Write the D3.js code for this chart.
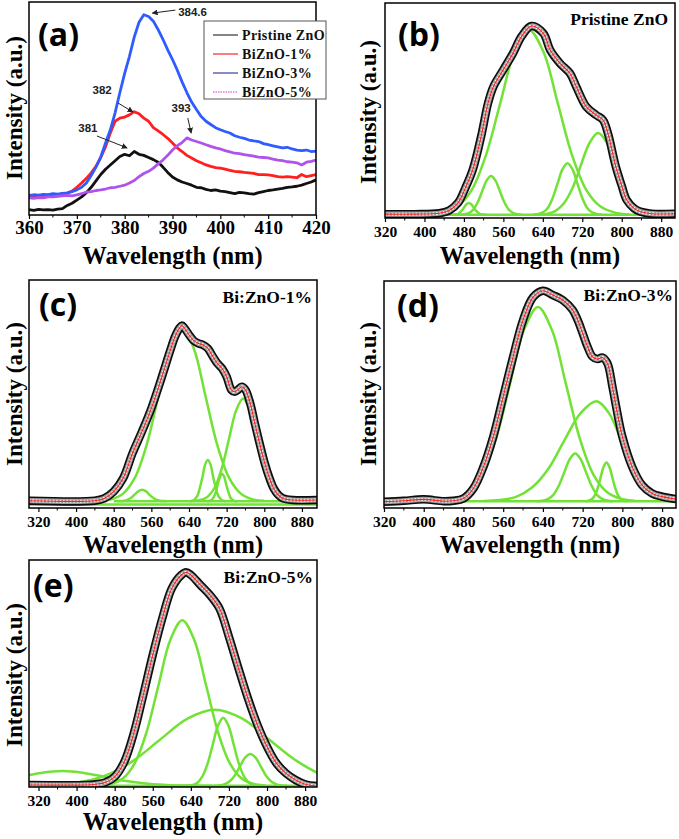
<!DOCTYPE html>
<html><head><meta charset="utf-8">
<script src="https://cdn.jsdelivr.net/npm/d3@7/dist/d3.min.js"></script>
<style>html,body{margin:0;padding:0;background:#fff}</style>
</head><body>
<svg id="chart" width="679" height="839"></svg>
<script>
// ===== Panel (a): PL spectra 360-420 nm =====
const wavelengthA = d3.range(360, 421, 1);
const pristineA = [.025,.022,.026,.024,.025,.023,.028,.03,.045,.055,.07,.085,.105,.13,.16,.19,.215,.235,.255,.275,.285,.278,.298,.285,.28,.27,.26,.248,.225,.2,.178,.165,.155,.148,.14,.13,.128,.12,.115,.118,.112,.11,.105,.1,.106,.104,.1,.098,.105,.11,.115,.118,.122,.125,.13,.132,.135,.14,.148,.155,.165];
const bi1A = [.085,.088,.086,.09,.092,.094,.095,.1,.103,.112,.13,.15,.172,.198,.228,.27,.32,.385,.44,.455,.46,.47,.485,.475,.455,.44,.41,.395,.378,.36,.338,.315,.298,.28,.268,.255,.245,.235,.228,.222,.22,.215,.21,.205,.203,.2,.198,.195,.19,.19,.188,.185,.18,.178,.18,.178,.175,.19,.18,.185,.19];
const bi3A = [.092,.095,.093,.097,.096,.1,.098,.102,.104,.11,.118,.13,.15,.185,.225,.272,.338,.4,.48,.575,.665,.745,.835,.905,.94,.932,.91,.87,.825,.775,.73,.68,.625,.575,.53,.495,.462,.44,.425,.41,.4,.392,.385,.372,.365,.36,.352,.348,.345,.335,.33,.325,.32,.315,.318,.31,.305,.302,.305,.298,.3];
const bi5A = [.08,.078,.082,.081,.085,.085,.088,.09,.092,.09,.095,.1,.108,.11,.115,.118,.122,.128,.13,.135,.14,.15,.162,.18,.195,.205,.22,.24,.258,.28,.305,.325,.34,.362,.352,.345,.338,.33,.322,.315,.31,.302,.296,.29,.288,.283,.28,.276,.272,.27,.268,.262,.258,.255,.25,.248,.245,.235,.248,.252,.258];
const legendLabels = ['Pristine ZnO', 'BiZnO-1%', 'BiZnO-3%', 'BiZnO-5%'];
const seriesColors = ['#111111', '#ff1f1f', '#2f5cff', '#b052ec'];
const legendColors = ['#333333', '#ff2020', '#3b3b9c', '#d63ac8'];
// peak annotations: [label, textX, textY, arrowFromX, arrowFromY, arrowToX, arrowToY] (data units)
const peakNotes = [
  ['384.6', 394.2, .955, 390.6, .962, 385.8, .948],
  ['382', 375.3, .587, 378.6, .526, 381.7, .484],
  ['381', 372.3, .408, 374.2, .371, 380.5, .315],
  ['393', 391.8, .502, 393.2, .455, 393.9, .385]
];

// ===== Panels (b)-(e): measured spectra [nm, intensity] =====
const specB = [[320,.018],[380,.018],[430,.022],[450,.035],[468,.07],[483,.14],[498,.225],[515,.38],[529,.535],[540,.612],[560,.69],[580,.768],[597,.845],[617,.893],[641,.859],[655,.781],[675,.719],[695,.673],[708,.61],[728,.518],[748,.479],[762,.456],[772,.394],[788,.239],[800,.15],[810,.084],[825,.045],[837,.03],[860,.02],[908,.02]];
const specC = [[300,.032],[440,.032],[460,.042],[480,.072],[500,.13],[520,.24],[540,.335],[560,.437],[580,.56],[600,.69],[610,.75],[620,.79],[625,.80],[630,.79],[640,.76],[650,.734],[660,.722],[670,.715],[680,.70],[690,.667],[700,.635],[710,.613],[720,.576],[730,.518],[737,.51],[745,.52],[752,.532],[760,.518],[770,.46],[780,.37],[790,.284],[800,.203],[810,.137],[820,.086],[830,.057],[840,.042],[860,.035],[912,.035]];
const specD = [[320,.028],[360,.032],[400,.038],[440,.03],[460,.032],[480,.042],[500,.086],[520,.18],[540,.314],[560,.49],[580,.666],[600,.828],[620,.928],[640,.957],[660,.938],[680,.916],[700,.872],[710,.828],[720,.77],[730,.71],[740,.666],[750,.656],[760,.663],[770,.637],[780,.534],[790,.417],[800,.314],[820,.18],[840,.10],[860,.064],[880,.05],[900,.042],[908,.04]];
const specE = [[300,.009],[420,.009],[440,.012],[460,.02],[480,.045],[500,.11],[520,.236],[540,.405],[560,.582],[580,.743],[600,.875],[620,.934],[630,.946],[640,.934],[660,.89],[680,.846],[700,.787],[720,.662],[740,.523],[760,.39],[780,.273],[800,.178],[820,.104],[840,.06],[860,.031],[880,.012],[905,.004]];

// ===== Fitted components (green) [nm, intensity] =====
const compsB = [
  [[455,.015],[460,.016],[465,.017],[470,.022],[475,.033],[480,.048],[485,.064],[490,.070],[495,.064],[500,.048],[505,.033],[510,.022],[515,.017],[520,.016],[525,.015]],
  [[472,.015],[481,.017],[490,.023],[499,.039],[508,.073],[517,.124],[526,.174],[535,.195],[544,.174],[553,.124],[562,.073],[571,.039],[580,.023],[589,.017],[598,.015]],
  [[409,.017],[438,.025],[467,.053],[496,.131],[525,.294],[554,.537],[583,.774],[612,.875],[641,.774],[670,.537],[699,.294],[728,.131],[757,.053],[786,.025],[815,.017]],
  [[620,.016],[630,.018],[640,.026],[650,.047],[660,.093],[670,.161],[680,.227],[690,.255],[700,.227],[710,.161],[720,.093],[730,.047],[740,.026],[750,.018],[760,.016]],
  [[630,.016],[647,.019],[665,.032],[682,.066],[700,.138],[717,.245],[735,.350],[752,.395],[770,.350],[787,.245],[805,.138],[822,.066],[840,.032],[857,.019],[875,.016]],
  [[440,.015],[880,.015]]
];
const compsC = [
  [[488,.030],[495,.031],[503,.032],[510,.037],[518,.046],[525,.060],[533,.074],[540,.080],[548,.074],[555,.060],[563,.046],[570,.037],[578,.032],[585,.031],[593,.030]],
  [[450,.032],[475,.038],[500,.063],[525,.133],[550,.277],[575,.491],[600,.701],[625,.790],[650,.701],[675,.491],[700,.277],[725,.133],[750,.063],[775,.038],[800,.032]],
  [[641,.030],[647,.032],[652,.038],[658,.054],[663,.088],[669,.139],[674,.189],[680,.210],[686,.189],[691,.139],[697,.088],[702,.054],[708,.038],[713,.032],[719,.030]],
  [[679,.030],[683,.031],[688,.035],[692,.046],[697,.069],[701,.103],[706,.136],[710,.150],[715,.136],[719,.103],[724,.069],[728,.046],[733,.035],[737,.031],[742,.030]],
  [[650,.031],[665,.035],[680,.050],[695,.091],[710,.176],[725,.303],[740,.427],[755,.480],[770,.427],[785,.303],[800,.176],[815,.091],[830,.050],[845,.035],[860,.031]],
  [[300,.015],[912,.015]],
  [[480,.03],[880,.03]]
];
const compsD = [
  [[434,.032],[462,.040],[490,.068],[518,.146],[546,.308],[574,.549],[602,.785],[630,.886],[658,.785],[686,.549],[714,.308],[742,.146],[770,.068],[798,.040],[826,.032]],
  [[628,.030],[639,.032],[650,.039],[661,.058],[672,.098],[683,.157],[694,.215],[705,.240],[716,.215],[727,.157],[738,.098],[749,.058],[760,.039],[771,.032],[782,.030]],
  [[521,.031],[553,.035],[586,.049],[618,.090],[651,.173],[683,.297],[716,.418],[748,.470],[773,.418],[798,.297],[823,.173],[848,.090],[873,.049],[898,.035],[923,.031]],
  [[726,.030],[732,.032],[738,.038],[744,.053],[750,.085],[756,.133],[762,.180],[768,.200],[774,.180],[780,.133],[786,.085],[792,.053],[798,.038],[804,.032],[810,.030]],
  [[480,.03],[908,.03]]
];
const compsE = [
  [[55,.005],[100,.006],[145,.008],[190,.014],[235,.026],[280,.044],[325,.062],[370,.070],[415,.062],[460,.044],[505,.026],[550,.014],[595,.008],[640,.006],[685,.005]],
  [[447,.007],[472,.013],[497,.037],[522,.104],[547,.242],[572,.448],[597,.649],[622,.735],[647,.649],[672,.448],[697,.242],[722,.104],[747,.037],[772,.013],[797,.007]],
  [[288,.006],[345,.009],[403,.020],[460,.050],[518,.114],[575,.208],[633,.301],[690,.340],[748,.301],[805,.208],[863,.114],[920,.050],[978,.020],[1035,.009],[1093,.006]],
  [[631,.006],[642,.008],[653,.018],[664,.046],[675,.102],[686,.187],[697,.270],[708,.305],[719,.270],[730,.187],[741,.102],[752,.046],[763,.018],[774,.008],[785,.006]],
  [[688,.005],[699,.007],[710,.011],[721,.024],[732,.050],[743,.090],[754,.129],[765,.145],[776,.129],[787,.090],[798,.050],[809,.024],[820,.011],[831,.007],[842,.005]],
  [[440,.005],[880,.005]]
];
const sampleTags = ['Pristine ZnO', 'Bi:ZnO-1%', 'Bi:ZnO-3%', 'Bi:ZnO-5%'];
const majorTicksA = [360, 370, 380, 390, 400, 410, 420];
const majorTicksFit = [320, 400, 480, 560, 640, 720, 800, 880];

// ===== Layout =====
const SERIF = "'Liberation Serif','Times New Roman',serif";
const SANS = "'Liberation Sans',Arial,sans-serif";
const LETTER = "'Open Sans','Lato',sans-serif";
const svg = d3.select('#chart');
svg.append('rect').attr('width', 679).attr('height', 839).attr('fill', '#fff');
const defs = svg.append('defs');
defs.append('marker').attr('id', 'arrow').attr('viewBox', '0 0 8 8').attr('refX', 7).attr('refY', 4)
  .attr('markerWidth', 6).attr('markerHeight', 6).attr('markerUnits', 'userSpaceOnUse').attr('orient', 'auto')
  .append('path').attr('d', 'M0,0 L8,4 L0,8 Z').attr('fill', '#222');

const panels = [
  {key:'a', box:[29,2,316,215], xdom:[360,420], major:majorTicksA, minorStep:5, tickFs:19, tickPad:2, letter:'(a)', letterPos:[38,35], ylab:[14,108], titleY:256},
  {key:'b', box:[385,3,675,218], xdom:[320,908], major:majorTicksFit, minorStep:40, tickFs:15.5, tickPad:4, letter:'(b)', letterPos:[398,35], ylab:[368,112], titleY:256, tag:sampleTags[0], tagPos:[668,19], spec:specB, comps:compsB},
  {key:'c', box:[29,280,317,508], xdom:[300,912], major:majorTicksFit, minorStep:40, tickFs:15.5, tickPad:4, letter:'(c)', letterPos:[39,305], ylab:[14,394], titleY:545, tag:sampleTags[1], tagPos:[312,297], spec:specC, comps:compsC},
  {key:'d', box:[384,281,676,508], xdom:[320,908], major:majorTicksFit, minorStep:40, tickFs:15.5, tickPad:4, letter:'(d)', letterPos:[397,306], ylab:[368,394], titleY:545, tag:sampleTags[2], tagPos:[673,295], spec:specD, comps:compsD},
  {key:'e', box:[29,560,317,787], xdom:[300,905], major:majorTicksFit, minorStep:40, tickFs:15.5, tickPad:4, letter:'(e)', letterPos:[33,586], ylab:[14,675], titleY:822, tag:sampleTags[3], tagPos:[313,577], spec:specE, comps:compsE}
];

panels.forEach(p => {
  const [L, T, R, B] = p.box;
  const x = d3.scaleLinear().domain(p.xdom).range([L, R]);
  const y = d3.scaleLinear().domain([0, 1]).range([B, T]);
  const g = svg.append('g');
  const clipId = 'clip-' + p.key;
  defs.append('clipPath').attr('id', clipId).append('rect')
    .attr('x', L).attr('y', T).attr('width', R - L).attr('height', B - T);
  const plot = g.append('g').attr('clip-path', `url(#${clipId})`);

  if (p.key === 'a') {
    const line = d3.line().x((d, i) => x(wavelengthA[i])).y(d => y(d)).curve(d3.curveLinear);
    [pristineA, bi1A, bi3A, bi5A].forEach((s, i) => {
      plot.append('path').attr('d', line(s)).attr('fill', 'none')
        .attr('stroke', seriesColors[i]).attr('stroke-width', 2.8).attr('stroke-linejoin', 'round');
    });
  } else {
    const line = d3.line().x(d => x(d[0])).y(d => y(d[1])).curve(d3.curveCatmullRom.alpha(0.5));
    p.comps.forEach(c => {
      plot.append('path').attr('d', line(c)).attr('fill', 'none')
        .attr('stroke', '#72e236').attr('stroke-width', 2.5).attr('stroke-linejoin', 'round');
    });
    const dpath = line(p.spec);
    plot.append('path').attr('d', dpath).attr('fill', 'none').attr('stroke', '#0d0d0d').attr('stroke-width', 8.5).attr('stroke-linejoin', 'round');
    plot.append('path').attr('d', dpath).attr('fill', 'none').attr('stroke', '#a0a0a0').attr('stroke-width', 5.2).attr('stroke-linejoin', 'round');
    plot.append('path').attr('d', dpath).attr('fill', 'none').attr('stroke', '#f4f4f4').attr('stroke-width', 3).attr('stroke-dasharray', '1.6 1.8');
    plot.append('path').attr('d', dpath).attr('fill', 'none').attr('stroke', '#ff2020').attr('stroke-width', 1.1);
  }

  // axis
  const ax = g.append('g').attr('transform', `translate(0,${B})`)
    .call(d3.axisBottom(x).tickValues(p.major).tickSize(4).tickPadding(p.tickPad).tickFormat(d3.format('d')));
  ax.select('.domain').remove();
  ax.selectAll('line').attr('stroke', '#000').attr('stroke-width', 1.2);
  ax.selectAll('text').attr('font-family', SERIF).attr('font-weight', 'bold').attr('font-size', p.tickFs).attr('fill', '#000');
  const minor = d3.range(p.major[0] + p.minorStep, p.xdom[1], p.minorStep * 2);
  g.selectAll(null).data(minor).enter().append('line')
    .attr('x1', d => x(d)).attr('x2', d => x(d)).attr('y1', B).attr('y2', B + 2.5)
    .attr('stroke', '#000').attr('stroke-width', 1);

  // frame
  g.append('rect').attr('x', L).attr('y', T).attr('width', R - L).attr('height', B - T)
    .attr('fill', 'none').attr('stroke', '#000').attr('stroke-width', 1.5);

  // labels
  g.append('text').attr('x', (L + R) / 2).attr('y', p.titleY + 8).attr('text-anchor', 'middle')
    .attr('font-family', SERIF).attr('font-weight', 'bold').attr('font-size', 24.5).text('Wavelength (nm)');
  g.append('text').attr('transform', `translate(${p.ylab[0] + 8},${p.ylab[1]}) rotate(-90)`).attr('text-anchor', 'middle')
    .attr('font-family', SERIF).attr('font-weight', 'bold').attr('font-size', 23).text('Intensity (a.u.)');
  g.append('text').attr('x', p.letterPos[0]).attr('y', p.letterPos[1] + 11).attr('font-family', LETTER)
    .attr('font-weight', 'bold').attr('font-size', 32).text(p.letter);
  if (p.tag) {
    g.append('text').attr('x', p.tagPos[0]).attr('y', p.tagPos[1] + 6).attr('text-anchor', 'end')
      .attr('font-family', SERIF).attr('font-weight', 'bold').attr('font-size', 17.5).text(p.tag);
  }

  if (p.key === 'a') {
    // annotations
    peakNotes.forEach(n => {
      g.append('line').attr('x1', x(n[3])).attr('y1', y(n[4])).attr('x2', x(n[5])).attr('y2', y(n[6]))
        .attr('stroke', '#222').attr('stroke-width', 1).attr('marker-end', 'url(#arrow)');
      g.append('text').attr('x', x(n[1])).attr('y', y(n[2]) + 4).attr('text-anchor', 'middle')
        .attr('font-family', SANS).attr('font-weight', 'bold').attr('font-size', 11.5).attr('fill', '#222').text(n[0]);
    });
    // legend
    const lg = g.append('g');
    lg.append('rect').attr('x', 204).attr('y', 21).attr('width', 122).attr('height', 78)
      .attr('fill', '#fff').attr('stroke', '#555').attr('stroke-width', 1);
    legendLabels.forEach((lab, i) => {
      const yy = 35 + i * 19;
      lg.append('line').attr('x1', 213).attr('x2', 238).attr('y1', yy).attr('y2', yy)
        .attr('stroke', legendColors[i]).attr('stroke-width', 1.2)
        .attr('stroke-dasharray', i === 3 ? '1.5 1' : null);
      lg.append('text').attr('x', 242).attr('y', yy + 5).attr('font-family', SERIF).attr('font-weight', 'bold')
        .attr('font-size', 14).attr('letter-spacing', 0.4).attr('fill', '#111').text(lab);
    });
  }
});
</script>
</body></html>
